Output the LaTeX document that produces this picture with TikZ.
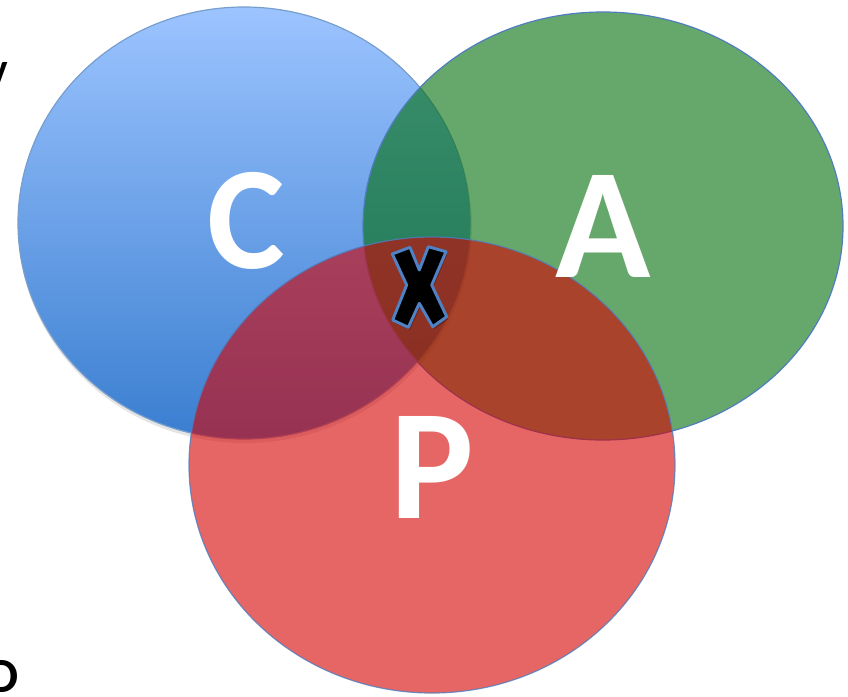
\documentclass[tikz,border=0pt]{standalone}
\usepackage{fontspec}
\setmainfont{Carlito}
\definecolor{bluetop}{RGB}{156,196,255}
\definecolor{bluemid}{RGB}{128,176,240}
\definecolor{bluebot}{RGB}{58,126,208}
\definecolor{bluerim}{RGB}{120,158,205}
\definecolor{greenfill}{RGB}{0,110,8}
\definecolor{redfill}{RGB}{213,0,0}
\definecolor{rimcol}{RGB}{79,125,189}
\definecolor{xrim}{RGB}{78,130,196}
\begin{document}
\begin{tikzpicture}[x=0.75pt,y=-0.75pt,
  rim/.style={draw=rimcol, line width=0.9},
  bigletter/.style={text=white, inner sep=0pt, anchor=base},
  fragment/.style={text=black, inner sep=0pt, anchor=base east, font=\bfseries\fontsize{31}{31}\selectfont}
]
\useasboundingbox (0,0) rectangle (848,696);
% soft shadow under the blue circle
\fill[black, opacity=0.10] (245,226) ellipse [x radius=227, y radius=217];
% circles
\shade[top color=bluetop, middle color=bluemid, bottom color=bluebot] (244,223) ellipse [x radius=226, y radius=216];
\draw[rim, draw=bluerim] (244,223) ellipse [x radius=226, y radius=216];
\fill[greenfill, fill opacity=0.6] (603,226) ellipse [x radius=240, y radius=214];
\draw[rim] (603,226) ellipse [x radius=240, y radius=214];
\fill[redfill, fill opacity=0.6] (432,465) ellipse [x radius=243, y radius=228];
\draw[rim, draw opacity=0.8] (432,465) ellipse [x radius=243, y radius=228];
% letters
\node[bigletter, font=\bfseries\fontsize{110}{110}\selectfont] (C) at (246,268) {C};
\node[bigletter, font=\bfseries\fontsize{118}{118}\selectfont] (A) at (603.5,277) {A};
\node[bigletter, font=\bfseries\fontsize{118}{118}\selectfont] (P) at (432.5,518) {P};
% X mark
\fill[black, opacity=0.25, shift={(1.5,2.5)}]
  (392.3,254) -- (410,247.3) -- (419.3,270) -- (428.3,246.7) -- (446,251.7) -- (431.7,285)
  -- (446.7,316.7) -- (432.7,326.7) -- (419.3,303.3) -- (408.3,327.3) -- (392.7,320) -- (406.7,285) -- cycle;
\filldraw[fill=black, draw=xrim, line width=2.2, line join=round]
  (392.3,254) -- (410,247.3) -- (419.3,270) -- (428.3,246.7) -- (446,251.7) -- (431.7,285)
  -- (446.7,316.7) -- (432.7,326.7) -- (419.3,303.3) -- (408.3,327.3) -- (392.7,320) -- (406.7,285) -- cycle;
% clipped text fragments at the left edge
\begin{scope}
\clip (0,0) rectangle (848,696);
\node[fragment] (frag1) at (8,82) {v};
\node[fragment, font=\bfseries\fontsize{37}{37}\selectfont] (frag2) at (19,692) {D};
\end{scope}
\end{tikzpicture}
\end{document}
